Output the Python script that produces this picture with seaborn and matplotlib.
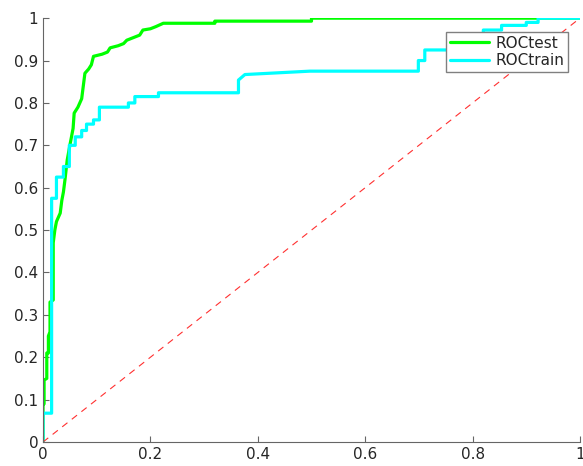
import numpy as np
import pandas as pd
import matplotlib
matplotlib.use("Agg")
import matplotlib.pyplot as plt
from matplotlib.ticker import FuncFormatter
import seaborn as sns

# ROC vertices (false positive rate, true positive rate)
test_fpr = [0, 0, 0.002, 0.002, 0.007, 0.007, 0.010, 0.010, 0.013, 0.013, 0.019, 0.019,
            0.022, 0.025, 0.032, 0.035, 0.038, 0.041, 0.045, 0.050, 0.056, 0.058, 0.065,
            0.072, 0.075, 0.078, 0.085, 0.090, 0.094, 0.110, 0.120, 0.125, 0.140, 0.150,
            0.156, 0.170, 0.180, 0.186, 0.200, 0.210, 0.224, 0.320, 0.320, 0.500, 0.500, 1.0]
test_tpr = [0, 0.09, 0.09, 0.146, 0.15, 0.21, 0.21, 0.25, 0.26, 0.33, 0.335, 0.47,
            0.50, 0.52, 0.54, 0.57, 0.59, 0.62, 0.665, 0.70, 0.74, 0.776, 0.79,
            0.81, 0.84, 0.87, 0.88, 0.89, 0.91, 0.915, 0.92, 0.93, 0.935, 0.94,
            0.948, 0.955, 0.96, 0.972, 0.975, 0.98, 0.988, 0.988, 0.993, 0.993, 1.0, 1.0]

train_fpr = [0, 0, 0.016, 0.016, 0.025, 0.025, 0.038, 0.038, 0.049, 0.049, 0.060, 0.060,
             0.072, 0.072, 0.081, 0.081, 0.094, 0.094, 0.105, 0.105, 0.159, 0.159, 0.171,
             0.171, 0.215, 0.215, 0.364, 0.364, 0.376, 0.497, 0.699, 0.699, 0.711, 0.711,
             0.780, 0.780, 0.820, 0.820, 0.854, 0.854, 0.900, 0.900, 0.922, 0.922, 1.0]
train_tpr = [0, 0.068, 0.068, 0.575, 0.575, 0.625, 0.625, 0.65, 0.65, 0.70, 0.70, 0.72,
             0.72, 0.735, 0.735, 0.75, 0.75, 0.76, 0.76, 0.79, 0.79, 0.80, 0.80,
             0.815, 0.815, 0.824, 0.824, 0.854, 0.867, 0.875, 0.875, 0.90, 0.90, 0.925,
             0.925, 0.95, 0.95, 0.972, 0.972, 0.983, 0.983, 0.99, 0.99, 1.0, 1.0]

chance = [0, 1]

sns.set_theme(style="white")
plt.rcParams["font.family"] = ["DejaVu Sans"]
plt.rcParams["xtick.direction"] = "in"
plt.rcParams["ytick.direction"] = "in"

fig = plt.figure(figsize=(5.83, 4.66), dpi=100)
ax = fig.add_axes([0.0738, 0.0515, 0.921, 0.9095])

sns.lineplot(x=test_fpr, y=test_tpr, sort=False, estimator=None, ax=ax,
             color="#00ff00", linewidth=2.3, label="ROCtest")
sns.lineplot(x=train_fpr, y=train_tpr, sort=False, estimator=None, ax=ax,
             color="#00ffff", linewidth=2.3, label="ROCtrain")
sns.lineplot(x=chance, y=chance, ax=ax, color="#ff3030", linewidth=0.8,
             dashes=False, linestyle=(0, (6, 5)))

ax.set_xlim(0, 1)
ax.set_ylim(0, 1)
ax.set_xticks(np.arange(0, 1.01, 0.2))
ax.set_yticks(np.arange(0, 1.01, 0.1))
fmt = FuncFormatter(lambda v, _: f"{v:g}")
ax.xaxis.set_major_formatter(fmt)
ax.yaxis.set_major_formatter(fmt)
ax.tick_params(axis="both", labelsize=11, labelcolor="#262626", color="#666666",
               length=4, width=0.8, bottom=True, left=True)
for side in ["top", "right"]:
    ax.spines[side].set_visible(False)
for side in ["left", "bottom"]:
    ax.spines[side].set_color("#666666")
    ax.spines[side].set_linewidth(0.8)

ax.legend(loc="upper right", bbox_to_anchor=(0.978, 0.968), borderaxespad=0,
          fontsize=11, frameon=True, fancybox=False, edgecolor="#808080",
          framealpha=1, handlelength=2.6, borderpad=0.25, labelspacing=0.15,
          handletextpad=0.4)

fig.savefig("out.png", dpi=100)
